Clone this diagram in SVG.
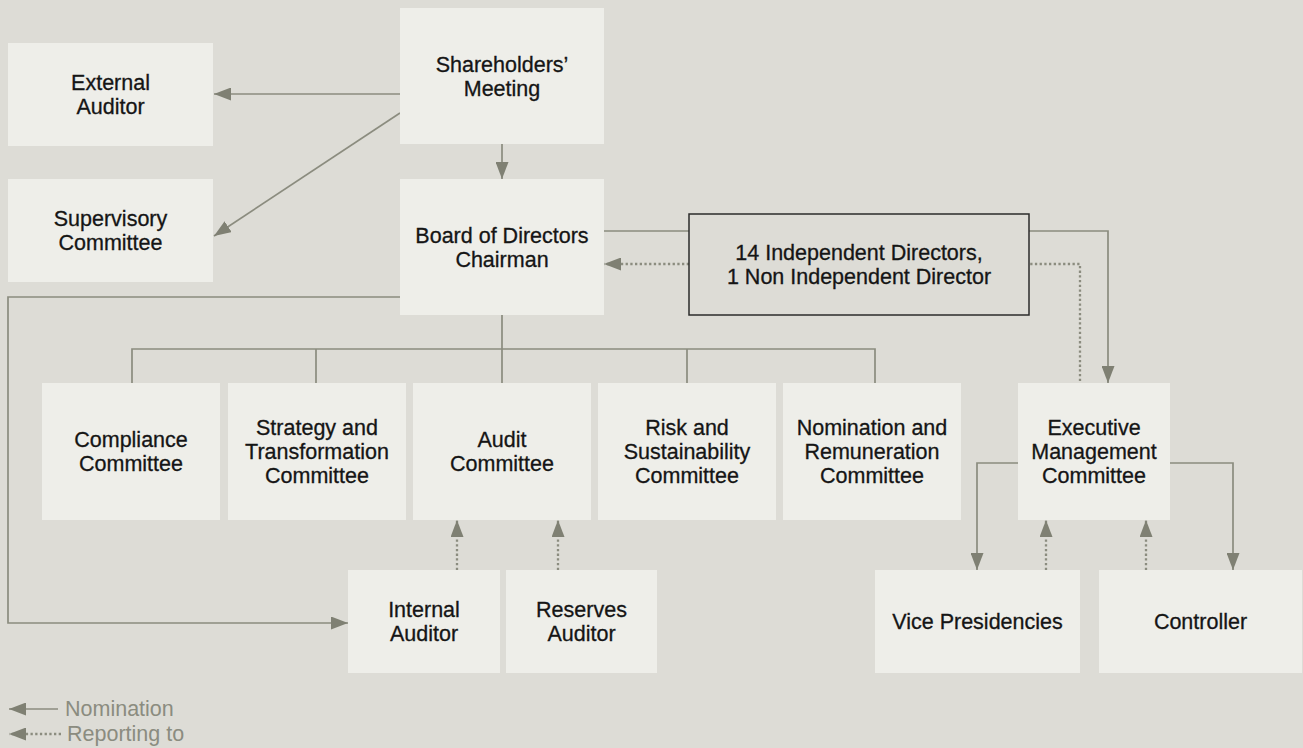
<svg xmlns="http://www.w3.org/2000/svg" width="1303" height="748" viewBox="0 0 1303 748">
  <style>
    .box { fill: #eeeee9; }
    .frame { fill: #dddcd6; stroke: #2b2b2b; stroke-width: 1.5; }
    .lbl { font-family: "Liberation Sans", Arial, sans-serif; font-size: 21.5px; fill: #151515; stroke: #151515; stroke-width: 0.3; text-anchor: middle; }
    .leg { font-family: "Liberation Sans", Arial, sans-serif; font-size: 21.5px; fill: #8b8c80; }
    .solid { fill: none; stroke: #8b8c7f; stroke-width: 1.7; }
    .dot { fill: none; stroke: #8b8c7f; stroke-width: 2.3; stroke-dasharray: 2.3 2.4; }
  </style>
  <defs>
    <marker id="arrow" viewBox="0 0 17 13" refX="17" refY="6.5" markerWidth="17" markerHeight="13" markerUnits="userSpaceOnUse" orient="auto">
      <path d="M0,0 L17,6.5 L0,13 Z" fill="#7f8073"/>
    </marker>
  </defs>

  <rect width="1303" height="748" fill="#dddcd6"/>

  <!-- connectors -->
  <g id="connectors">
    <!-- Shareholders' Meeting nominations -->
    <path class="solid" d="M400,94 H214" marker-end="url(#arrow)"/>
    <path class="solid" d="M400,113 L214,236" marker-end="url(#arrow)"/>
    <path class="solid" d="M502,144 V179" marker-end="url(#arrow)"/>
    <!-- Board to Internal Auditor -->
    <path class="solid" d="M400,297 H8 V623 H348" marker-end="url(#arrow)"/>
    <!-- Board to committees -->
    <path class="solid" d="M502,315 V349 M132,383 V349 H875 V383 M316,349 V383 M502,349 V383 M687,349 V383"/>
    <!-- Board to Executive Management Committee -->
    <path class="solid" d="M604,231 H689 M1029,231 H1108 V383" marker-end="url(#arrow)"/>
    <!-- Executive Management Committee reporting to Board -->
    <path class="dot" d="M689,264 H604" marker-end="url(#arrow)"/>
    <path class="dot" d="M1080,381 V264 H1029"/>
    <!-- Executive Management Committee nominations -->
    <path class="solid" d="M1018,463 H977 V570" marker-end="url(#arrow)"/>
    <path class="solid" d="M1170,463 H1233 V570" marker-end="url(#arrow)"/>
    <!-- reporting lines -->
    <path class="dot" d="M1046,570 V520" marker-end="url(#arrow)"/>
    <path class="dot" d="M1146,570 V520" marker-end="url(#arrow)"/>
    <path class="dot" d="M457,570 V520" marker-end="url(#arrow)"/>
    <path class="dot" d="M558,570 V520" marker-end="url(#arrow)"/>
  </g>

  <g id="external-auditor">
    <rect class="box" x="8" y="43" width="205" height="103"/>
    <text class="lbl" x="110.5" y="90">External</text>
    <text class="lbl" x="110.5" y="114">Auditor</text>
  </g>
  <g id="supervisory-committee">
    <rect class="box" x="8" y="179" width="205" height="103"/>
    <text class="lbl" x="110.5" y="226">Supervisory</text>
    <text class="lbl" x="110.5" y="250">Committee</text>
  </g>
  <g id="shareholders-meeting">
    <rect class="box" x="400" y="8" width="204" height="136"/>
    <text class="lbl" x="502" y="71.5">Shareholders’</text>
    <text class="lbl" x="502" y="95.5">Meeting</text>
  </g>
  <g id="board">
    <rect class="box" x="400" y="179" width="204" height="136"/>
    <text class="lbl" x="502" y="242.5">Board of Directors</text>
    <text class="lbl" x="502" y="266.5">Chairman</text>
  </g>
  <g id="directors">
    <rect class="frame" x="689" y="214" width="340" height="101"/>
    <text class="lbl" x="859" y="260">14 Independent Directors,</text>
    <text class="lbl" x="859" y="284">1 Non Independent Director</text>
  </g>

  <g id="compliance-committee">
    <rect class="box" x="42" y="383" width="178" height="137"/>
    <text class="lbl" x="131" y="446.5">Compliance</text>
    <text class="lbl" x="131" y="470.5">Committee</text>
  </g>
  <g id="strategy-committee">
    <rect class="box" x="228" y="383" width="178" height="137"/>
    <text class="lbl" x="317" y="434.5">Strategy and</text>
    <text class="lbl" x="317" y="458.5">Transformation</text>
    <text class="lbl" x="317" y="482.5">Committee</text>
  </g>
  <g id="audit-committee">
    <rect class="box" x="413" y="383" width="178" height="137"/>
    <text class="lbl" x="502" y="446.5">Audit</text>
    <text class="lbl" x="502" y="470.5">Committee</text>
  </g>
  <g id="risk-committee">
    <rect class="box" x="598" y="383" width="178" height="137"/>
    <text class="lbl" x="687" y="434.5">Risk and</text>
    <text class="lbl" x="687" y="458.5">Sustainability</text>
    <text class="lbl" x="687" y="482.5">Committee</text>
  </g>
  <g id="nomination-committee">
    <rect class="box" x="783" y="383" width="178" height="137"/>
    <text class="lbl" x="872" y="434.5">Nomination and</text>
    <text class="lbl" x="872" y="458.5">Remuneration</text>
    <text class="lbl" x="872" y="482.5">Committee</text>
  </g>
  <g id="executive-committee">
    <rect class="box" x="1018" y="383" width="152" height="137"/>
    <text class="lbl" x="1094" y="434.5">Executive</text>
    <text class="lbl" x="1094" y="458.5">Management</text>
    <text class="lbl" x="1094" y="482.5">Committee</text>
  </g>

  <g id="internal-auditor">
    <rect class="box" x="348" y="570" width="152" height="103"/>
    <text class="lbl" x="424" y="617">Internal</text>
    <text class="lbl" x="424" y="641">Auditor</text>
  </g>
  <g id="reserves-auditor">
    <rect class="box" x="506" y="570" width="151" height="103"/>
    <text class="lbl" x="581.5" y="617">Reserves</text>
    <text class="lbl" x="581.5" y="641">Auditor</text>
  </g>
  <g id="vice-presidencies">
    <rect class="box" x="875" y="570" width="205" height="103"/>
    <text class="lbl" x="977.5" y="629">Vice Presidencies</text>
  </g>
  <g id="controller">
    <rect class="box" x="1099" y="570" width="203" height="103"/>
    <text class="lbl" x="1200.5" y="629">Controller</text>
  </g>

  <!-- legend -->
  <g id="legend">
    <path class="solid" d="M58,709 H9" marker-end="url(#arrow)"/>
    <text class="leg" x="65" y="715.5">Nomination</text>
    <path class="dot" d="M61,734 H9" marker-end="url(#arrow)"/>
    <text class="leg" x="67" y="741">Reporting to</text>
  </g>
</svg>
